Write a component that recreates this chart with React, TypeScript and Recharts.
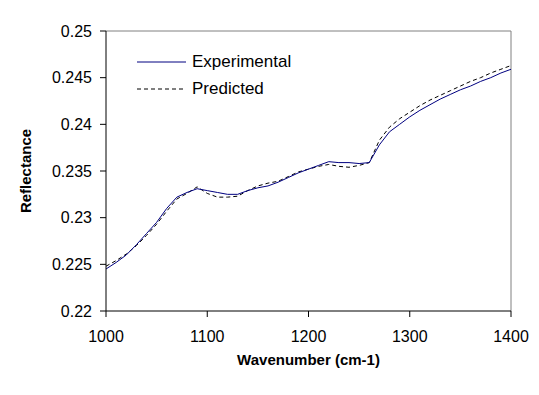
import React from 'react'
import {
  LineChart,
  Line,
  XAxis,
  YAxis,
  ReferenceLine,
} from 'recharts'

const wavenumbers = [
  1000, 1010, 1020, 1030, 1040, 1050, 1060, 1070, 1080, 1090,
  1100, 1110, 1120, 1130, 1140, 1150, 1160, 1170, 1180, 1190,
  1200, 1210, 1220, 1230, 1240, 1250, 1260, 1270, 1280, 1290,
  1300, 1310, 1320, 1330, 1340, 1350, 1360, 1370, 1380, 1390, 1400,
]

const experimental = [
  0.2245, 0.2252, 0.226, 0.2271, 0.2283, 0.2295, 0.231, 0.2322, 0.2327, 0.2331,
  0.2329, 0.2327, 0.2325, 0.2325, 0.2329, 0.2332, 0.2334, 0.2338, 0.2343, 0.2348,
  0.2352, 0.2356, 0.236, 0.2359, 0.2359, 0.2358, 0.2359, 0.2378, 0.2392, 0.24,
  0.2408, 0.2415, 0.2421, 0.2427, 0.2432, 0.2437, 0.2441, 0.2446, 0.245, 0.2455, 0.2459,
]

const predicted = [
  0.2248, 0.2254, 0.2261, 0.227, 0.2281, 0.2293, 0.2307, 0.232, 0.2326, 0.2333,
  0.2326, 0.2322, 0.2322, 0.2323, 0.2329, 0.2334, 0.2337, 0.2339, 0.2344, 0.2349,
  0.2352, 0.2355, 0.2357, 0.2355, 0.2354, 0.2356, 0.2359, 0.2383, 0.2397, 0.2406,
  0.2413, 0.242, 0.2426, 0.2431, 0.2436, 0.2441, 0.2446, 0.245, 0.2455, 0.2459, 0.2463,
]

const xTicks = [1000, 1100, 1200, 1300, 1400]
const yTicks = [0.22, 0.225, 0.23, 0.235, 0.24, 0.245, 0.25]

const data = wavenumbers.map((w, i) => ({
  w,
  experimental: experimental[i],
  predicted: predicted[i],
}))

const font = 'Arial, "Liberation Sans", sans-serif'

function LegendBox() {
  const rows = [
    { name: 'Experimental', color: '#000080', dash: undefined },
    { name: 'Predicted', color: '#000000', dash: '4 3' },
  ]
  return (
    <div style={{ position: 'absolute', left: 137, top: 48, fontFamily: font, fontSize: 17, color: '#000' }}>
      {rows.map((r) => (
        <div key={r.name} style={{ display: 'flex', alignItems: 'center', height: 27 }}>
          <svg width={49} height={4} style={{ marginRight: 6 }}>
            <line x1={0} y1={2} x2={49} y2={2} stroke={r.color} strokeWidth={1} strokeDasharray={r.dash} />
          </svg>
          <span>{r.name}</span>
        </div>
      ))}
    </div>
  )
}

export default function App() {
  return (
    <div style={{ position: 'absolute', left: 0, top: 0, width: 539, height: 395, background: '#fff' }}>
      <LineChart
        width={539}
        height={395}
        data={data}
        margin={{ top: 31, right: 28, left: 8, bottom: 34 }}
      >
        <XAxis
          dataKey="w"
          type="number"
          domain={[1000, 1400]}
          ticks={xTicks}
          axisLine={{ stroke: '#000' }}
          tickLine={{ stroke: '#000' }}
          tickSize={6}
          tickMargin={14}
          tick={{ fill: '#000', fontSize: 16, fontFamily: font }}
          height={50}
          label={{
            value: 'Wavenumber (cm-1)',
            position: 'insideBottom',
            offset: -4,
            fill: '#000',
            fontSize: 15,
            fontWeight: 'bold',
            fontFamily: font,
          }}
        />
        <YAxis
          type="number"
          domain={[0.22, 0.25]}
          ticks={yTicks}
          axisLine={{ stroke: '#000' }}
          tickLine={{ stroke: '#000' }}
          tickSize={6}
          tickMargin={8}
          tick={{ fill: '#000', fontSize: 16, fontFamily: font }}
          tickFormatter={(v: number) => String(v)}
          width={98}
          label={{
            value: 'Reflectance',
            angle: -90,
            position: 'insideLeft',
            offset: 18,
            fill: '#000',
            fontSize: 15,
            fontWeight: 'bold',
            fontFamily: font,
            style: { textAnchor: 'middle' },
          }}
        />
        <ReferenceLine y={0.25} stroke="#808080" />
        <ReferenceLine x={1400} stroke="#808080" />
        <Line
          type="linear"
          dataKey="predicted"
          stroke="#000000"
          strokeWidth={1}
          strokeDasharray="4 3"
          dot={false}
          isAnimationActive={false}
        />
        <Line
          type="linear"
          dataKey="experimental"
          stroke="#000080"
          strokeWidth={1}
          dot={false}
          isAnimationActive={false}
        />
      </LineChart>
      <LegendBox />
    </div>
  )
}
